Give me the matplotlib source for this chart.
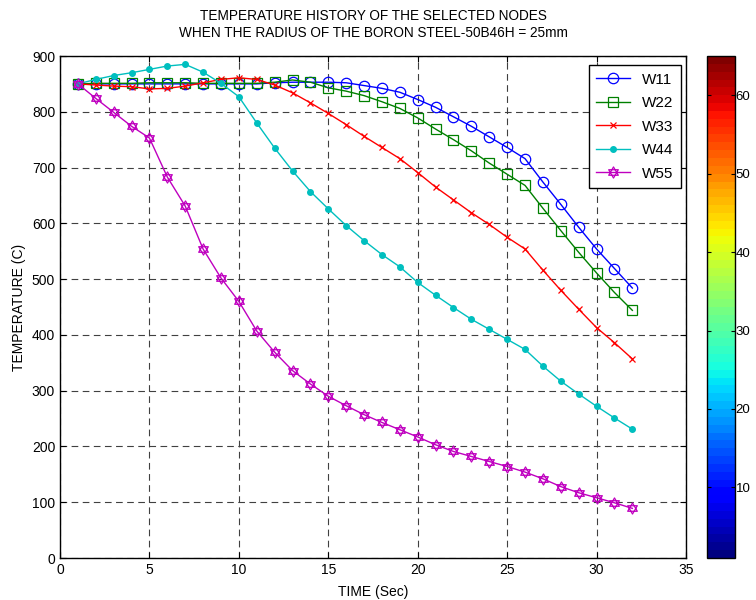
import numpy as np
import matplotlib
matplotlib.use('Agg')
import matplotlib.pyplot as plt
from matplotlib.path import Path
from matplotlib.colors import ListedColormap, BoundaryNorm
import matplotlib.cm as cm

plt.rcParams['font.family'] = ['Liberation Sans', 'DejaVu Sans']

#--- data
time = list(range(1, 33))
w11 = [850, 850, 850, 850, 850, 850, 850, 850, 850, 850, 850, 852, 853, 853, 853, 852,
       847, 842, 835, 822, 808, 791, 774, 755, 736, 716, 674, 634, 593, 554, 519, 484]
w22 = [850, 851, 851, 851, 852, 852, 852, 851, 851, 851, 851, 853, 857, 853, 843, 837,
       829, 818, 806, 789, 769, 750, 730, 708, 688, 668, 627, 587, 548, 511, 476, 444]
w33 = [850, 848, 846, 845, 841, 842, 846, 852, 858, 861, 858, 848, 834, 816, 797, 777,
       756, 736, 716, 691, 665, 642, 619, 598, 575, 554, 516, 480, 446, 413, 386, 357]
w44 = [850, 858, 865, 870, 876, 882, 885, 871, 851, 827, 780, 735, 694, 657, 626, 596,
       569, 544, 522, 494, 471, 449, 428, 410, 392, 374, 344, 317, 294, 272, 251, 231]
w55 = [850, 824, 799, 774, 753, 683, 631, 554, 502, 460, 407, 369, 336, 312, 290, 273,
       257, 243, 230, 217, 203, 191, 182, 173, 164, 154, 142, 128, 117, 108, 99, 89]

labels = ['W11', 'W22', 'W33', 'W44', 'W55']
colors = ['#0000ff', '#008000', '#ff0000', '#00bfbf', '#bf00bf']

#--- hexagram marker (two overlapping triangles)
ang_up = np.deg2rad([90, 210, 330])
ang_dn = np.deg2rad([270, 30, 150])
verts = []
codes = []
for ang in (ang_up, ang_dn):
    pts = np.column_stack([np.cos(ang), np.sin(ang)])
    verts += list(pts) + [pts[0]]
    codes += [Path.MOVETO, Path.LINETO, Path.LINETO, Path.CLOSEPOLY]
hexagram = Path(verts, codes)

fig = plt.figure(figsize=(7.56, 6.0), dpi=100)
ax = fig.add_axes([60/756, 1 - 558/600, 626/756, 502/600])

ax.plot(time, w11, '-', color=colors[0], lw=1, marker='o', ms=7.5,
        mfc='none', mec=colors[0], mew=0.9, label=labels[0])
ax.plot(time, w22, '-', color=colors[1], lw=1, marker='s', ms=7.5,
        mfc='none', mec=colors[1], mew=0.9, label=labels[1])
ax.plot(time, w33, '-', color=colors[2], lw=1, marker='x', ms=4.5,
        mec=colors[2], mew=0.9, label=labels[2])
ax.plot(time, w44, '-', color=colors[3], lw=1, marker='o', ms=4,
        mfc=colors[3], mec=colors[3], label=labels[3])
ax.plot(time, w55, '-', color=colors[4], lw=1, marker=hexagram, ms=8,
        mfc='none', mec=colors[4], mew=0.9, label=labels[4])

ax.set_xlim(0, 35)
ax.set_ylim(0, 900)
ax.set_xticks(np.arange(0, 36, 5))
ax.set_yticks(np.arange(0, 901, 100))
ax.tick_params(direction='in', top=True, right=True, labelsize=10, length=4, width=0.8)
ax.grid(True, color='0.25', linestyle=(0, (6, 4)), linewidth=0.8)
for s in ax.spines.values():
    s.set_linewidth(1.0)

ax.set_xlabel('TIME (Sec)', fontsize=10, labelpad=6)
ax.set_ylabel('TEMPERATURE (C)', fontsize=10, labelpad=4)
ax.set_title('TEMPERATURE HISTORY OF THE SELECTED NODES\n'
             'WHEN THE RADIUS OF THE BORON STEEL-50B46H = 25mm',
             fontsize=9.8, pad=14, linespacing=1.25)

leg = ax.legend(loc='upper right', fancybox=False, edgecolor='black',
                fontsize=11, handlelength=2.2, labelspacing=0.62, borderpad=0.5,
                borderaxespad=0, framealpha=1)
leg.set_bbox_to_anchor((681/756, 1 - 65/600), transform=fig.transFigure)
leg.get_frame().set_linewidth(1.0)

#--- colorbar (jet, 64 levels, 1..65)
cax = fig.add_axes([707/756, 1 - 558/600, 28/756, 502/600])
cmap = ListedColormap(plt.get_cmap('jet')(np.linspace(0, 1, 64)))
norm = BoundaryNorm(np.arange(1, 66), 64)
sm = cm.ScalarMappable(norm=norm, cmap=cmap)
cb = fig.colorbar(sm, cax=cax, ticks=np.arange(10, 61, 10))
cb.minorticks_off()
cb.outline.set_linewidth(1.0)
cax.tick_params(direction='in', left=True, right=True, length=3, width=0.8,
                labelsize=9.5, pad=0.5)

fig.savefig('out.png', dpi=100)
